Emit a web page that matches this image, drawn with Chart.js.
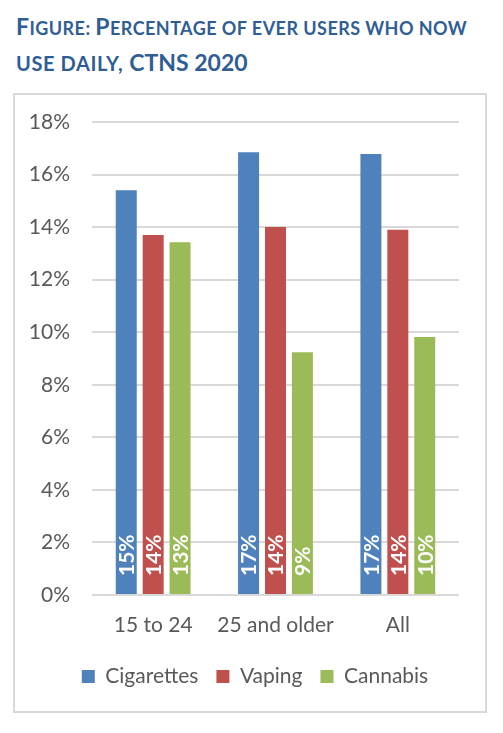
<!DOCTYPE html>
<html>
<head>
<meta charset="utf-8">
<script src="https://cdn.jsdelivr.net/npm/chart.js@4"></script>
<style>
  html,body{margin:0;padding:0;background:#fff;}
  body{width:503px;height:733px;position:relative;overflow:hidden;font-family:Lato,"Open Sans",sans-serif;}
  .title{position:absolute;left:16px;color:#2F5E95;font-weight:700;white-space:nowrap;line-height:30px;}
  .title .B{font-size:23px;}
  .title .s{font-size:18px;text-transform:uppercase;}
  #t1{top:11px;letter-spacing:0.45px;}
  #t2{top:47px;}
  #t2 .s{font-size:20px;letter-spacing:0.6px;}
  #t2 .big{font-size:23px;margin-left:6px;}
  #box{position:absolute;left:13px;top:93px;width:470px;height:616px;border:2px solid #D9D9D9;}
  #c{position:absolute;left:0;top:0;}
</style>
</head>
<body>
<div class="title" id="t1"><span class="B">F</span><span class="s">igure: </span><span class="B">P</span><span class="s">ercentage of ever users who now</span></div>
<div class="title" id="t2"><span class="s">use daily,</span><span class="big">CTNS 2020</span></div>
<div id="box"><canvas id="c" width="470" height="616"></canvas></div>
<script>
const categories = ["15 to 24", "25 and older", "All"];
const seriesNames = ["Cigarettes", "Vaping", "Cannabis"];
const cigarettes = [15.4, 16.85, 16.78];
const vaping = [13.7, 14.0, 13.9];
const cannabis = [13.42, 9.24, 9.82];
const barLabels = [["15%","17%","17%"],["14%","14%","14%"],["13%","9%","10%"]];
const colors = ["#4F81BD", "#C0504D", "#9BBB59"];
const yTicks = [0,2,4,6,8,10,12,14,16,18];
const FONT = 'Lato, "Open Sans", sans-serif';

const valueLabels = {
  id: 'valueLabels',
  afterDatasetsDraw(chart) {
    const ctx = chart.ctx;
    ctx.save();
    ctx.fillStyle = '#fff';
    ctx.font = 'bold 21px ' + FONT;
    ctx.textAlign = 'left';
    ctx.textBaseline = 'middle';
    chart.data.datasets.forEach((ds, di) => {
      const meta = chart.getDatasetMeta(di);
      meta.data.forEach((bar, i) => {
        ctx.save();
        ctx.translate(bar.x + 1, bar.base - 18);
        ctx.rotate(-Math.PI / 2);
        ctx.fillText(barLabels[di][i], 0, 0);
        ctx.restore();
      });
    });
    ctx.restore();
  }
};

const legendShift = {
  id: 'legendShift',
  afterLayout(chart) {
    if (chart.legend) { chart.legend.left += 18; chart.legend.right += 18; }
  }
};

new Chart(document.getElementById('c'), {
  type: 'bar',
  data: {
    labels: categories,
    datasets: [
      {label: seriesNames[0], data: cigarettes, backgroundColor: colors[0]},
      {label: seriesNames[1], data: vaping, backgroundColor: colors[1]},
      {label: seriesNames[2], data: cannabis, backgroundColor: colors[2]}
    ]
  },
  options: {
    responsive: false,
    animation: false,
    devicePixelRatio: 1,
    categoryPercentage: 0.66,
    barPercentage: 0.78,
    layout: {padding: {top: 27, right: 26, left: 0, bottom: 14}},
    plugins: {
      tooltip: {enabled: false},
      legend: {
        position: 'bottom',
        labels: {
          boxWidth: 13, boxHeight: 13, padding: 18,
          color: '#595959',
          font: {size: 21, family: FONT}
        }
      }
    },
    scales: {
      x: {
        grid: {display: false, drawTicks: false},
        border: {display: false},
        ticks: {color: '#595959', padding: 18, maxRotation: 0, minRotation: 0, autoSkip: false, font: {size: 21, family: FONT}},
        afterFit(s) { s.height = 53; }
      },
      y: {
        min: 0, max: 18,
        afterBuildTicks(s) { s.ticks = yTicks.map(v => ({value: v})); },
        grid: {color: '#D9D9D9', lineWidth: 2, drawTicks: false},
        border: {display: false},
        ticks: {
          color: '#595959', padding: 22,
          font: {size: 21, family: FONT},
          callback: v => v + '%'
        },
        afterFit(s) { s.width = 77; s.paddingTop = 0; s.paddingBottom = 0; }
      }
    }
  },
  plugins: [valueLabels, legendShift]
});
</script>
</body>
</html>
